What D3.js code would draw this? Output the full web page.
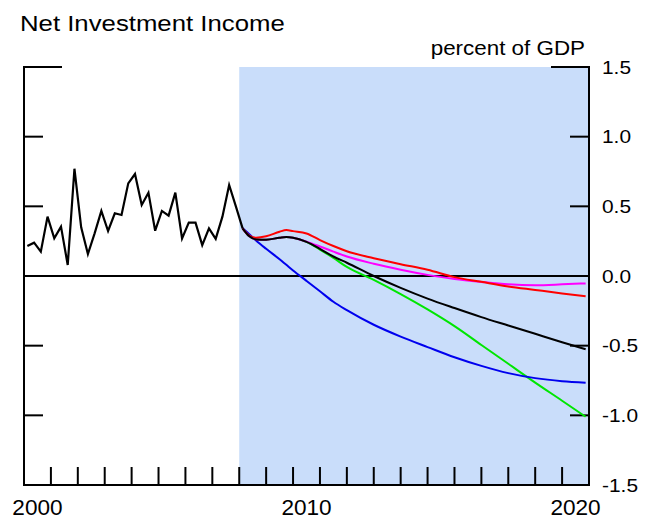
<!DOCTYPE html>
<html>
<head>
<meta charset="utf-8">
<script src="https://cdn.jsdelivr.net/npm/d3@7"></script>
<style>
  body { margin: 0; background: #fff; }
  text { font-family: "Liberation Sans", Arial, sans-serif; fill: #000; }
</style>
</head>
<body>
<div id="chart"></div>
<script>
// quarterly history, 2000Q1 .. 2007Q4
var histStart = 2000;
var histValues = [0.215, 0.239, 0.175, 0.426, 0.270, 0.354, 0.079, 0.77,
  0.349, 0.158, 0.306, 0.467, 0.323, 0.450, 0.438, 0.665,
  0.732, 0.510, 0.598, 0.325, 0.467, 0.433, 0.598, 0.270,
  0.383, 0.383, 0.222, 0.342, 0.266, 0.426, 0.653, 0.50];

// projections, starting 2008Q1
var projYears = [2008.125, 2008.375, 2008.625, 2009, 2009.5, 2009.75, 2010, 2010.5, 2011, 2011.5,
  2012, 2013, 2014, 2015, 2016, 2017, 2018, 2019, 2020, 2020.875];
var projBlue = [0.342, 0.30, 0.255, 0.195, 0.12, 0.08, 0.04, -0.035, -0.11, -0.185,
  -0.245, -0.35, -0.435, -0.51, -0.583, -0.645, -0.697, -0.733, -0.755, -0.766];
var projGreen = [0.342, 0.285, 0.262, 0.26, 0.275, 0.28, 0.275, 0.245, 0.19, 0.13,
  0.065, -0.028, -0.13, -0.24, -0.36, -0.495, -0.63, -0.765, -0.895, -1.01];
var projMagenta = [0.342, 0.285, 0.262, 0.26, 0.275, 0.28, 0.275, 0.247, 0.212, 0.175,
  0.14, 0.088, 0.045, 0.008, -0.022, -0.043, -0.06, -0.066, -0.06, -0.053];
var projRed = [0.342, 0.29, 0.275, 0.285, 0.318, 0.33, 0.322, 0.305, 0.258, 0.215,
  0.178, 0.128, 0.085, 0.045, -0.008, -0.042, -0.075, -0.10, -0.125, -0.146];
var projBlack = [0.342, 0.285, 0.262, 0.26, 0.275, 0.28, 0.275, 0.245, 0.195, 0.14,
  0.095, 0.0, -0.085, -0.162, -0.23, -0.295, -0.355, -0.415, -0.475, -0.526];

var yTicks = [1.5, 1.0, 0.5, 0.0, -0.5, -1.0, -1.5];
var yTickLabels = ["1.5", "1.0", "0.5", "0.0", "-0.5", "-1.0", "-1.5"];
var yearTicks = d3.range(2001, 2021);
var yearLabels = [2000, 2010, 2020];
var shadeFrom = 2008;

var width = 656, height = 519;
var x = d3.scaleLinear().domain([2000, 2021]).range([24, 589]);
var y = d3.scaleLinear().domain([-1.5, 1.5]).range([485, 67]);

var svg = d3.select("#chart").append("svg")
  .attr("width", width)
  .attr("height", height);

// forecast shading
svg.append("rect")
  .attr("x", x(shadeFrom))
  .attr("y", y(1.5))
  .attr("width", x(2021) - x(shadeFrom))
  .attr("height", y(-1.5) - y(1.5))
  .attr("fill", "#c9ddfa");

// frame: left, right, bottom, zero line
var axisG = svg.append("g")
  .attr("stroke", "#000")
  .attr("stroke-width", 2)
  .attr("fill", "none");

axisG.append("line").attr("x1", x(2000)).attr("x2", x(2000)).attr("y1", y(1.5) - 1).attr("y2", y(-1.5) + 1);
axisG.append("line").attr("x1", x(2021)).attr("x2", x(2021)).attr("y1", y(1.5) - 1).attr("y2", y(-1.5) + 1);
axisG.append("line").attr("x1", x(2000)).attr("x2", x(2021)).attr("y1", y(-1.5)).attr("y2", y(-1.5));
axisG.append("line").attr("x1", x(2000)).attr("x2", x(2021)).attr("y1", y(0)).attr("y2", y(0));

// y ticks on both sides (top one longer)
var tickVals = yTicks.filter(d => d !== 0 && d !== -1.5);
axisG.selectAll(".ytl")
  .data(tickVals)
  .enter()
  .append("line")
  .attr("x1", x(2000))
  .attr("x2", d => x(2000) + (d === 1.5 ? 38 : 19))
  .attr("y1", d => y(d))
  .attr("y2", d => y(d));

axisG.selectAll(".ytr")
  .data(tickVals)
  .enter()
  .append("line")
  .attr("x1", x(2021))
  .attr("x2", d => x(2021) - (d === 1.5 ? 38 : 19))
  .attr("y1", d => y(d))
  .attr("y2", d => y(d));

// year ticks
axisG.selectAll(".xt")
  .data(yearTicks)
  .enter()
  .append("line")
  .attr("x1", d => x(d))
  .attr("x2", d => x(d))
  .attr("y1", y(-1.5))
  .attr("y2", y(-1.5) - 18);

// lines
var line = d3.line()
  .x(d => x(d[0]))
  .y(d => y(d[1]))
  .curve(d3.curveMonotoneX);

var histData = histValues.map((v, i) => [histStart + i / 4 + 0.125, v]);
histData.push([projYears[0], projBlack[0]]);

var series = [
  { values: projGreen, color: "#00e600" },
  { values: projBlue, color: "#0000ee" },
  { values: projMagenta, color: "#ff00ff" },
  { values: projRed, color: "#ff0000" },
  { values: projBlack, color: "#000000" }
];

series.forEach(function(s) {
  svg.append("path")
    .datum(projYears.map((t, i) => [t, s.values[i]]))
    .attr("d", line)
    .attr("fill", "none")
    .attr("stroke", s.color)
    .attr("stroke-width", 2);
});

svg.append("path")
  .datum(histData)
  .attr("d", d3.line().x(d => x(d[0])).y(d => y(d[1])))
  .attr("fill", "none")
  .attr("stroke", "#000")
  .attr("stroke-width", 2.2)
  .attr("stroke-linejoin", "miter");

// labels (glyphs in the original are a little wide, hence the scaleX)
svg.selectAll(".ylab")
  .data(yTicks)
  .enter()
  .append("text")
  .attr("transform", d => `translate(602,${y(d)}) scale(1.1,1)`)
  .attr("dy", "0.35em")
  .attr("font-size", 19)
  .text((d, i) => yTickLabels[i]);

svg.selectAll(".xlab")
  .data(yearLabels)
  .enter()
  .append("text")
  .attr("transform", d => `translate(${x(d + 0.5)},515) scale(1.05,1)`)
  .attr("text-anchor", "middle")
  .attr("font-size", 21.5)
  .text(d => d);

svg.append("text")
  .attr("transform", "translate(585,55) scale(1.12,1)")
  .attr("text-anchor", "end")
  .attr("font-size", 20)
  .text("percent of GDP");

svg.append("text")
  .attr("transform", "translate(20,31) scale(1.12,1)")
  .attr("font-size", 23)
  .text("Net Investment Income");
</script>
</body>
</html>
